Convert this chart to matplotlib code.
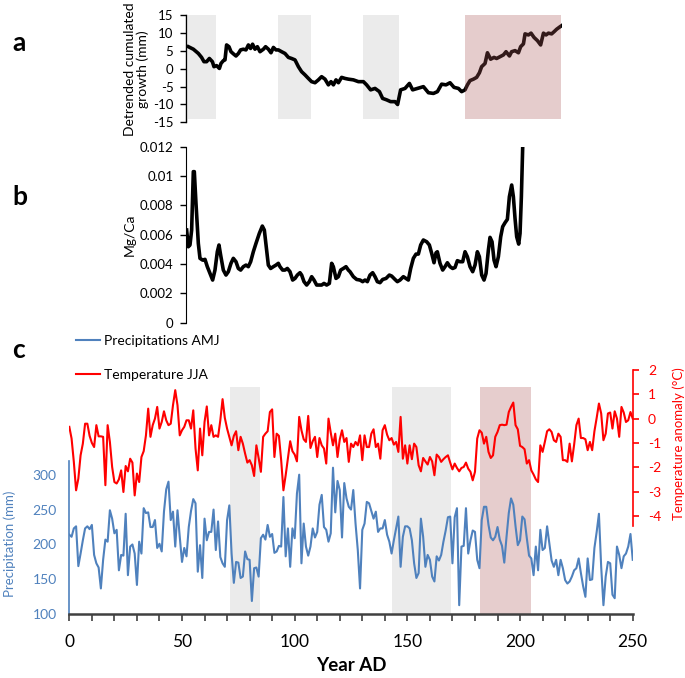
import numpy as np
import matplotlib
matplotlib.use("Agg")
import matplotlib.pyplot as plt
from matplotlib.ticker import FuncFormatter, MultipleLocator

plt.rcParams['font.family'] = ['Lato', 'DejaVu Sans']
plt.rcParams['axes.unicode_minus'] = False

#%% panel a : detrended cumulated growth (hidden x axis, sample position)
growth_x = [1.2, 3.7, 6.2, 7.8, 9.0, 10.3, 11.7, 13.2, 14.0, 15.3, 16.7, 17.5, 18.7, 19.5,
            20.3, 21.5, 22.5, 23.7, 25.0, 26.2, 27.3, 28.7, 30.0, 31.2, 32.3, 33.3, 34.5,
            35.7, 37.0, 38.7, 39.8, 41.2, 42.5, 43.7, 45.0, 46.2, 47.8, 49.5, 51.2, 52.8,
            54.5, 56.2, 57.8, 59.5, 61.2, 62.8, 64.5, 66.2, 67.8, 69.5, 71.2, 72.5, 73.7,
            75.0, 76.2, 77.8, 79.5, 81.2, 83.7, 86.2, 88.7, 90.3, 92.3, 94.5, 96.7, 98.3,
            100.3, 102.3, 104.5, 105.8, 107.3, 109.5, 111.7, 113.3, 115.7, 118.7, 121.2,
            123.7, 125.7, 127.8, 130.0, 132.0, 134.0, 136.2, 137.8, 139.5, 140.7, 142.0,
            143.7, 145.3, 146.7, 147.8, 149.5, 150.7, 152.3, 154.0, 155.3, 157.0, 158.7,
            160.0, 161.7, 162.8, 164.5, 166.2, 167.3, 168.7, 169.5, 171.2, 172.5, 174.0,
            175.7, 177.3, 178.7, 180.0, 181.2, 182.8, 184.0, 185.3, 187.0, 187.8]
growth = [6.2, 5.5, 4.3, 3.2, 2.0, 2.0, 2.9, 2.0, 0.6, 0.9, 0.1, 1.5, 2.3, 2.5,
          6.7, 6.2, 4.8, 4.2, 3.6, 4.3, 5.3, 5.5, 5.3, 6.7, 5.7, 6.9, 5.5,
          6.2, 4.8, 5.5, 6.2, 5.5, 4.5, 6.0, 5.3, 5.3, 4.8, 4.3, 3.2, 2.9,
          2.5, 0.6, -0.8, -1.7, -2.7, -3.6, -3.9, -3.1, -2.2, -2.9, -4.5, -3.6, -4.5,
          -3.1, -3.9, -2.4, -2.7, -2.9, -3.1, -3.6, -3.6, -4.5, -5.9, -5.5, -6.4, -8.3,
          -8.7, -9.2, -9.2, -10.0, -5.9, -5.5, -4.1, -5.9, -5.5, -5.0, -6.7,
          -6.9, -6.4, -4.3, -4.5, -3.9, -5.2, -5.5, -6.4, -5.9, -4.5, -3.3,
          -2.9, -2.4, -1.1, 0.6, 1.5, 4.5, 2.7, 3.2, 2.9, 3.4, 3.9,
          4.8, 3.6, 4.8, 5.1, 4.5, 6.2, 7.0, 9.8, 9.5, 10.0, 8.8,
          7.9, 6.7, 10.0, 9.5, 10.0, 9.8, 10.4, 11.1, 11.8, 12.1]
a_dry_start = [1.0, 46.0, 88.4]
a_dry_end = [15.0, 62.4, 106.5]
a_warm_start = 139.5
a_warm_end = 187.4

#%% panel b : Mg/Ca
mgca_x = [0.33, 1.17, 2.0, 2.83, 3.67, 4.17, 5.0, 6.17, 7.0, 8.33, 9.5, 10.67, 12.0, 13.33,
          14.5, 15.67, 16.5, 17.33, 18.67, 20.0, 21.17, 22.5, 23.67, 25.0, 26.17, 27.33,
          28.67, 30.0, 31.17, 32.33, 33.67, 35.0, 36.67, 38.17, 39.17, 40.33, 41.17, 42.33,
          43.67, 45.0, 46.17, 47.0, 48.33, 49.5, 50.67, 52.0, 53.33, 54.5, 55.67, 57.0,
          57.83, 59.0, 60.33, 61.67, 62.83, 64.0, 65.33, 66.5, 67.83, 69.0, 70.33, 71.67,
          72.83, 73.67, 75.0, 76.17, 77.33, 78.67, 80.0, 81.17, 82.0, 83.67, 85.33, 87.0,
          88.33, 89.5, 90.67, 92.0, 93.33, 94.5, 95.67, 97.0, 98.33, 100.0, 101.67, 102.83,
          104.5, 105.67, 107.0, 108.67, 110.0, 111.17, 112.33, 113.67, 115.0, 116.17,
          117.33, 118.67, 120.33, 121.67, 122.83, 124.0, 125.0, 125.67, 127.0, 128.33,
          129.5, 130.67, 132.0, 133.33, 134.5, 135.67, 137.0, 138.33, 139.5, 140.67,
          142.0, 143.33, 144.5, 145.67, 146.67, 147.83, 149.0, 150.0, 151.17, 152.0,
          153.0, 154.0, 155.0, 156.17, 157.33, 158.33, 159.5, 160.67, 161.67, 162.83,
          163.67, 164.5, 165.33, 166.33, 167.0, 167.67, 168.33]
mgca = [6.32, 5.18, 5.30, 6.32, 10.30, 10.30, 8.14, 5.41, 4.39, 4.27, 4.32, 3.82, 3.36, 2.91,
        3.59, 4.84, 5.30, 4.61, 3.59, 3.25, 3.48, 4.05, 4.39, 4.16, 3.70, 3.59,
        3.82, 3.93, 3.82, 4.16, 4.84, 5.41, 6.09, 6.59, 6.32, 4.95, 3.93, 3.70,
        3.82, 3.93, 4.05, 3.82, 3.59, 3.59, 3.70, 3.48, 2.91, 3.02, 3.25, 3.41,
        3.25, 2.80, 2.57, 2.80, 3.14, 2.91, 2.57, 2.57, 2.57, 2.68, 2.57, 2.68,
        4.05, 3.82, 3.02, 3.14, 3.59, 3.70, 3.82, 3.59, 3.48, 3.14, 2.95, 2.91,
        2.80, 2.91, 2.80, 3.25, 3.41, 3.14, 2.80, 2.73, 2.95, 3.02, 3.25, 3.18,
        2.95, 2.80, 2.91, 3.14, 3.02, 2.91, 3.70, 4.39, 4.68, 4.68,
        5.30, 5.64, 5.52, 5.30, 4.73, 4.09, 4.77, 4.84, 4.05, 3.59,
        3.82, 4.09, 3.82, 3.70, 3.77, 4.23, 4.16, 4.16, 4.84, 4.50,
        3.82, 3.48, 3.93, 4.84, 4.50, 3.25, 2.91, 3.36, 4.95, 5.82,
        5.52, 4.27, 3.82, 4.50, 5.86, 6.55, 6.82, 7.05, 8.59, 9.39,
        8.59, 7.11, 5.86, 5.36, 6.09, 8.59, 12.0]
mgca = [v / 1000 for v in mgca]

#%% panel c : precipitation AMJ and temperature JJA, 0-250 AD
years = np.arange(0, 251)
precip = [214, 211, 223, 226, 169, 187, 206, 223, 226, 222,
          228, 185, 173, 167, 137, 178, 207, 204, 249, 237,
          216, 221, 163, 185, 184, 244, 156, 197, 200, 187,
          142, 204, 187, 252, 245, 246, 225, 225, 235, 195,
          201, 190, 247, 279, 290, 235, 247, 197, 249, 211,
          175, 195, 183, 225, 248, 265, 259, 161, 199, 152,
          237, 206, 218, 218, 250, 192, 233, 182, 173, 168,
          235, 256, 187, 145, 175, 174, 152, 154, 190, 179,
          178, 119, 166, 167, 154, 209, 214, 207, 228, 211,
          215, 188, 190, 198, 197, 268, 183, 223, 168, 223,
          209, 273, 300, 173, 230, 197, 184, 197, 223, 210,
          218, 257, 271, 225, 221, 204, 216, 310, 246, 291,
          278, 210, 288, 266, 254, 250, 278, 230, 192, 137,
          221, 230, 261, 259, 248, 237, 247, 218, 223, 223,
          235, 214, 204, 187, 206, 223, 240, 168, 211, 226,
          226, 223, 206, 173, 152, 159, 237, 211, 168, 185,
          178, 154, 147, 183, 177, 185, 204, 220, 239, 240,
          173, 239, 252, 113, 197, 198, 252, 187, 206, 220,
          218, 178, 166, 235, 254, 254, 228, 210, 206, 211,
          225, 207, 198, 174, 211, 245, 266, 257, 226, 199,
          206, 240, 236, 209, 184, 180, 156, 197, 163, 221,
          192, 195, 226, 202, 177, 168, 178, 156, 178, 166,
          149, 144, 147, 154, 163, 166, 180, 159, 140, 125,
          180, 149, 150, 195, 218, 244, 168, 113, 154, 175,
          173, 128, 123, 197, 185, 166, 183, 187, 197, 215,
          178]
temp = [-0.34, -0.82, -1.78, -2.95, -2.47, -1.51, -1.03, -0.21, -0.21, -0.71,
        -1.0, -1.17, -0.27, -0.73, -0.73, -0.75, -2.74, -0.27, -0.96, -1.99,
        -2.61, -2.67, -2.5, -2.13, -3.02, -1.95, -2.17, -1.65, -1.81, -3.16,
        -2.26, -2.61, -1.58, -1.34, -0.69, 0.41, -0.75, -0.27, 0.0, 0.48,
        -0.41, -0.14, 0.30, -0.07, -0.27, -0.21, 0.55, 1.17, 0.55, -0.69,
        -0.48, -0.34, -0.07, -0.07, -0.41, 0.34, -1.23, -2.13, -0.41, -1.51,
        -0.14, 0.5, -0.69, -0.27, -0.75, -0.69, -0.75, -0.07, 0.80, 0.03,
        -0.41, -0.75, -1.10, -0.71, -0.52, -1.30, -0.75, -1.03, -1.44, -1.81,
        -1.71, -1.92, -2.36, -1.10, -1.62, -2.19, -0.75, -0.62, -0.52, 0.27,
        0.38, -1.58, -0.62, -0.71, -1.71, -2.95, -2.33, -1.62, -0.93, -1.34,
        -1.48, -1.76, 0.07, -0.48, -0.85, -0.96, 0.11, -1.21, -0.93, -0.75,
        -1.58, -0.80, -1.10, -1.23, -1.85, 0.0, -0.58, -1.10, -0.62, -1.58,
        -0.86, -0.48, -0.96, -0.80, -1.78, -1.03, -1.17, -0.96, -1.10, -0.69,
        -1.71, -0.69, -1.17, -1.17, -0.62, -0.44, -1.17, -1.03, -1.65, -0.48,
        -0.27, -0.66, -0.89, -0.80, -1.07, -0.96, -1.37, 0.07, -1.65, -1.10,
        -1.85, -1.10, -1.67, -1.03, -1.17, -1.92, -2.17, -1.62, -1.76, -1.89,
        -1.58, -1.76, -2.33, -1.48, -1.58, -1.78, -1.67, -1.58, -1.51, -1.81,
        -2.09, -1.85, -2.03, -2.17, -2.03, -1.99, -1.81, -2.06, -2.19, -2.54,
        -2.19, -0.82, -0.48, -0.58, -1.03, -0.75, -1.37, -1.62, -1.51, -0.75,
        -0.55, -0.27, -0.25, -0.27, -0.25, 0.27, 0.48, 0.66, -0.27, -0.44,
        -1.12, -1.17, -1.26, -1.85, -1.71, -2.13, -2.30, -2.50, -2.61, -1.10,
        -1.37, -0.96, -0.52, -0.44, -0.55, -0.89, -0.96, -0.62, -0.75, -1.71,
        -1.71, -1.78, -1.03, -1.76, -1.07, -0.27, 0.0, -0.80, -0.80, -0.85,
        -1.30, -0.96, -1.30, -0.52, 0.03, 0.62, 0.21, -0.89, -0.62, 0.21,
        0.25, -0.41, 0.30, 0.0, -0.75, 0.48, 0.25, -0.14, -0.07, 0.27,
        0.0]
c_dry_start = [71.4, 143.0]
c_dry_end = [84.5, 169.2]
c_warm_start = 182.2
c_warm_end = 204.8

blue = "#4f81bd"
red = "#ff0000"
grey_shade = "#ebebeb"
pink_shade = "#e6cdcd"

fig = plt.figure(figsize=(6.85, 6.78), dpi=100)

#%% a
axa = fig.add_axes([0.2715, 0.8196, 0.549, 0.1578])
axa.plot(growth_x, growth, color="k", lw=2.6, zorder=2)
for s, e in zip(a_dry_start, a_dry_end):
    axa.axvspan(s, e, ymin=0.03, color=grey_shade, lw=0, zorder=1)
axa.axvspan(a_warm_start, a_warm_end, ymin=0.03, color="#ab5858", alpha=0.3, lw=0, zorder=3)
axa.set_xlim(0, 188)
axa.set_ylim(-15, 15)
axa.set_yticks(np.arange(-15, 16, 5))
axa.set_xticks([])
for sp in ["top", "right", "bottom"]:
    axa.spines[sp].set_visible(False)
axa.spines["left"].set_linewidth(1.0)
axa.tick_params(axis="y", labelsize=9.5, length=4, width=1, pad=5)
axa.set_ylabel("Detrended cumulated\ngrowth (mm)", fontsize=10, labelpad=3, linespacing=1.05)

#%% b
axb = fig.add_axes([0.2715, 0.524, 0.549, 0.2596])
axb.plot(mgca_x, mgca, color="k", lw=2.6)
axb.set_xlim(0, 188)
axb.set_ylim(0, 0.012)
axb.set_yticks(np.arange(0, 0.0121, 0.002))
axb.yaxis.set_major_formatter(FuncFormatter(lambda v, p: "{:g}".format(round(v, 4))))
axb.set_xticks([])
for sp in ["top", "right", "bottom"]:
    axb.spines[sp].set_visible(False)
axb.tick_params(axis="y", labelsize=9.5, length=4, width=1, pad=5)
axb.set_ylabel("Mg/Ca", fontsize=10, labelpad=3)

#%% c
axc = fig.add_axes([0.1012, 0.094, 0.8225, 0.3603])
for s, e in zip(c_dry_start, c_dry_end):
    axc.fill_between([s, e], 100, 425, color=grey_shade, lw=0, zorder=0)
axc.fill_between([c_warm_start, c_warm_end], 100, 425, color=pink_shade, lw=0, zorder=0)
lp, = axc.plot(years, precip, color=blue, lw=1.5, zorder=2, label="Precipitations AMJ")
axc.set_xlim(0, 250)
axc.set_ylim(100, 450)
axc.set_yticks(np.arange(100, 301, 50))
axc.xaxis.set_major_locator(MultipleLocator(50))
axc.xaxis.set_minor_locator(MultipleLocator(10))
axc.spines["top"].set_visible(False)
axc.spines["right"].set_visible(False)
axc.spines["left"].set_bounds(100, 320)
axc.spines["left"].set_color(blue)
axc.spines["left"].set_linewidth(1.2)
axc.spines["bottom"].set_color("#404040")
axc.spines["bottom"].set_linewidth(1.8)
axc.tick_params(axis="x", which="both", length=5, width=1.2, color="#404040",
                labelsize=12.5, pad=9)
axc.tick_params(axis="y", length=0, labelcolor=blue, labelsize=10, pad=9)
axc.set_xlabel("Year AD", fontsize=13.5, fontweight="bold", labelpad=5)
axc.set_ylabel("Precipitation (mm)", color=blue, fontsize=9.5)
axc.yaxis.set_label_coords(-0.095, 0.29)

axt = axc.twinx()
lt, = axt.plot(years, temp, color=red, lw=1.5, zorder=2, label="Temperature JJA")
axt.set_ylim(-8.05, 2)
axt.set_yticks(np.arange(-4, 3, 1))
for sp in ["top", "left", "bottom"]:
    axt.spines[sp].set_visible(False)
axt.spines["right"].set_bounds(-4.43, 2)
axt.spines["right"].set_color(red)
axt.spines["right"].set_linewidth(1.2)
axt.tick_params(axis="y", length=4, width=1.2, color=red, labelcolor=red,
                labelsize=10, pad=7)
axt.set_ylabel("Temperature anomaly (°C)", color=red, fontsize=9.5)
axt.yaxis.set_label_coords(1.07, 0.70)

fig.legend(handles=[lp, lt], loc="upper left", bbox_to_anchor=(76 / 685, 1 - 335 / 678),
           frameon=False, fontsize=10, handlelength=1.75, handletextpad=0.3,
           labelspacing=1.6, borderpad=0, borderaxespad=0)

fig.text(12 / 685, 1 - 43 / 678, "a", fontsize=19, fontweight="bold", va="center")
fig.text(12 / 685, 1 - 197 / 678, "b", fontsize=19, fontweight="bold", va="center")
fig.text(12 / 685, 1 - 350 / 678, "c", fontsize=19, fontweight="bold", va="center")

fig.savefig("out.png", dpi=100)
